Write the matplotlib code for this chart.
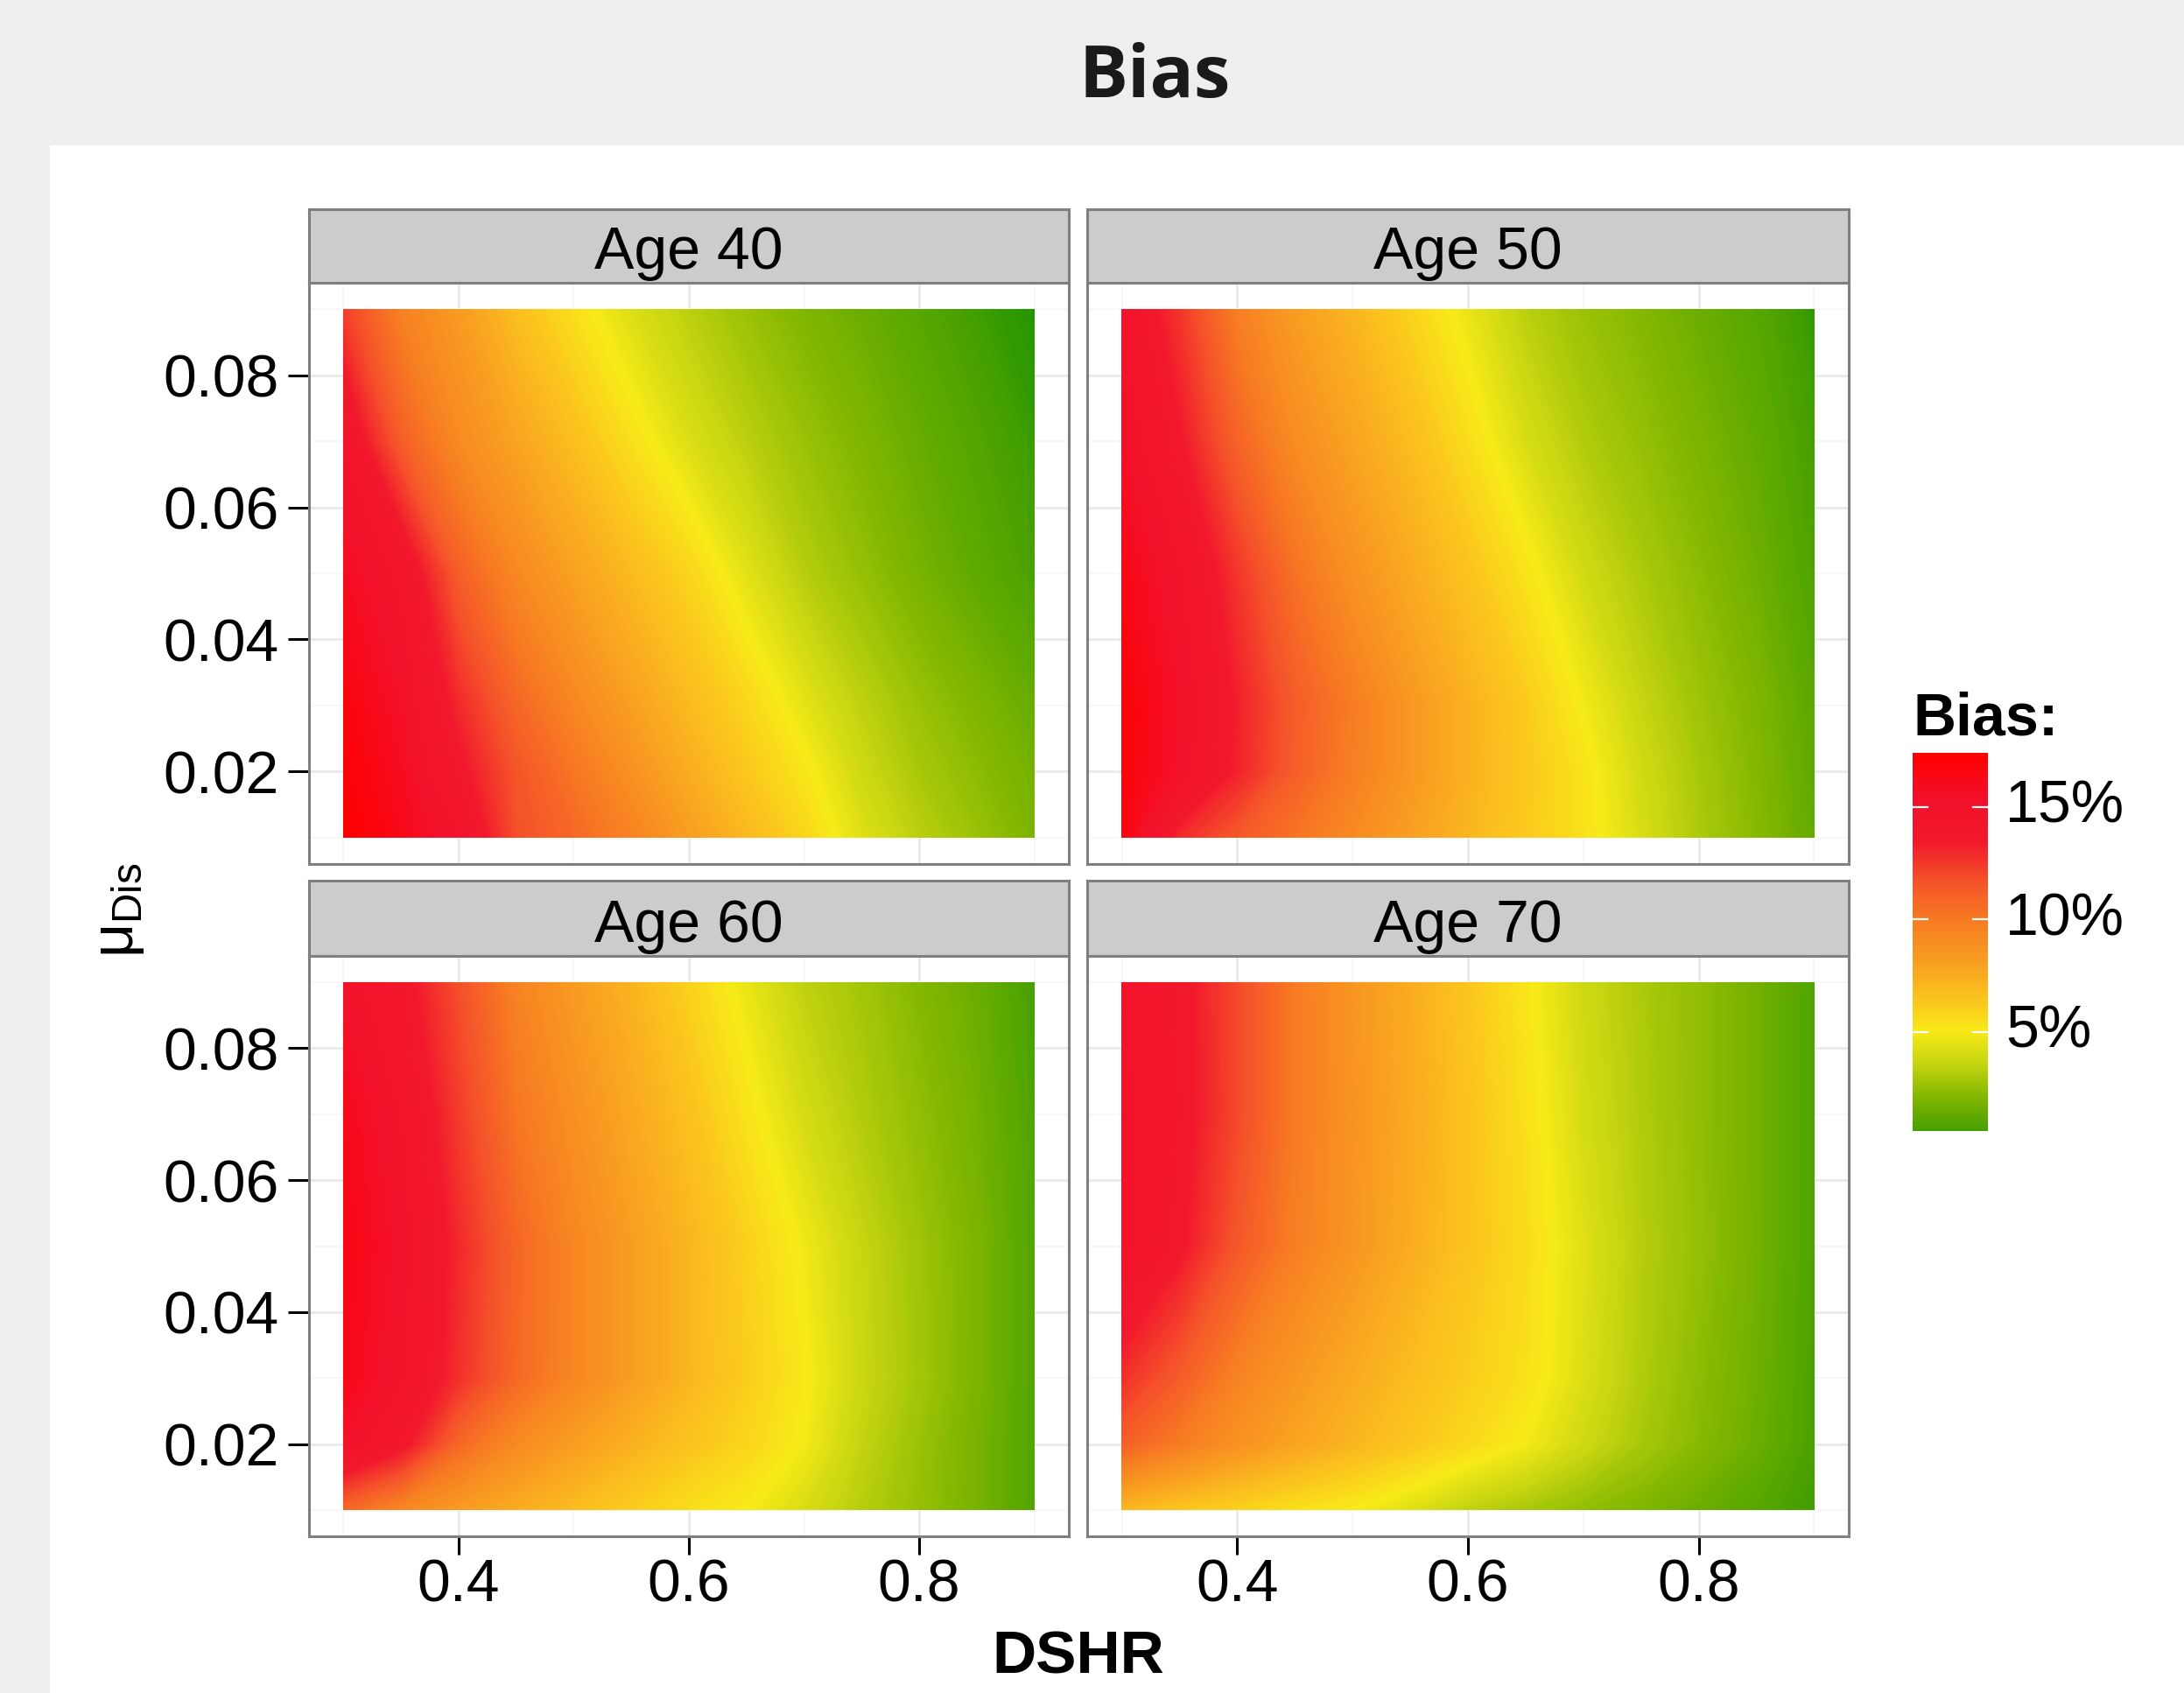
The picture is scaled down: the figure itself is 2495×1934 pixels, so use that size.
import numpy as np
import matplotlib
matplotlib.use("Agg")
import matplotlib.pyplot as plt
from matplotlib.colors import LinearSegmentedColormap, Normalize
from matplotlib.patches import Rectangle

plt.rcParams['font.family'] = ['Liberation Sans', 'DejaVu Sans']
plt.rcParams['mathtext.fontset'] = 'custom'
plt.rcParams['mathtext.rm'] = 'Liberation Sans'
plt.rcParams['mathtext.it'] = 'Liberation Sans'

# simulation grid
dshr = [0.30, 0.35, 0.40, 0.45, 0.50, 0.55, 0.60, 0.65, 0.70, 0.75, 0.80, 0.85, 0.90]
mu_dis = [0.01, 0.02, 0.03, 0.05, 0.07, 0.09]

# bias in percent, one row per mu_dis value (bottom to top)
bias_age40 = [
    [17.4, 16.3, 15.0, 11.8, 10.8, 9.6, 8.2, 7.0, 5.8, 4.3, 3.3, 2.6, 1.9],
    [17.1, 16.0, 13.8, 11.6, 10.2, 8.8, 7.5, 6.3, 5.2, 3.8, 2.9, 2.3, 1.7],
    [16.8, 15.6, 13.0, 10.9, 9.4, 8.1, 6.9, 5.8, 4.5, 3.4, 2.6, 2.0, 1.4],
    [16.0, 14.7, 11.2, 9.3, 8.0, 6.9, 5.8, 4.4, 3.2, 2.5, 1.8, 1.2, 0.7],
    [14.8, 11.2, 9.2, 7.9, 6.7, 5.4, 4.2, 3.3, 2.6, 2.0, 1.4, 0.9, 0.4],
    [12.3, 9.7, 8.3, 6.7, 5.4, 4.2, 3.3, 2.6, 2.0, 1.5, 1.0, 0.5, 0.1],
]
bias_age50 = [
    [16.8, 12.9, 11.4, 10.3, 9.2, 8.1, 7.1, 6.2, 5.4, 4.1, 3.0, 2.2, 1.3],
    [17.0, 15.4, 13.2, 11.2, 9.8, 8.5, 7.3, 6.3, 5.3, 3.9, 2.9, 2.1, 1.2],
    [17.0, 15.6, 13.3, 11.3, 9.9, 8.5, 7.3, 6.2, 4.9, 3.6, 2.7, 2.0, 1.1],
    [16.5, 15.0, 12.6, 10.4, 8.8, 7.6, 6.5, 5.3, 3.9, 3.0, 2.3, 1.6, 0.8],
    [15.6, 13.6, 11.0, 9.1, 7.9, 6.8, 5.5, 4.1, 3.1, 2.5, 1.9, 1.3, 0.6],
    [14.8, 12.6, 9.8, 8.2, 7.1, 5.9, 4.6, 3.3, 2.6, 2.1, 1.5, 1.0, 0.3],
]
bias_age60 = [
    [10.8, 9.3, 8.3, 7.5, 6.8, 6.1, 5.5, 5.0, 4.1, 3.2, 2.5, 1.8, 0.9],
    [15.6, 13.9, 10.8, 9.2, 8.2, 7.3, 6.5, 5.8, 4.9, 3.5, 2.6, 1.8, 0.9],
    [16.4, 15.0, 12.8, 10.8, 9.4, 8.2, 7.1, 6.1, 5.1, 3.7, 2.8, 1.9, 0.9],
    [16.6, 15.4, 13.0, 10.9, 9.4, 8.2, 7.1, 6.0, 4.8, 3.6, 2.7, 1.9, 0.9],
    [16.3, 14.9, 12.4, 10.2, 8.9, 7.7, 6.6, 5.3, 4.0, 3.1, 2.4, 1.7, 0.8],
    [15.4, 14.0, 11.8, 9.6, 8.3, 7.2, 5.9, 4.6, 3.4, 2.8, 2.1, 1.5, 0.6],
]
bias_age70 = [
    [7.0, 6.4, 5.9, 5.4, 5.0, 4.3, 3.4, 2.9, 2.4, 2.0, 1.5, 1.0, 0.5],
    [11.2, 9.9, 8.8, 7.9, 7.1, 6.4, 5.7, 4.9, 3.8, 2.9, 2.2, 1.5, 0.7],
    [12.8, 11.3, 9.6, 8.5, 7.6, 6.8, 6.1, 5.4, 4.2, 3.1, 2.3, 1.6, 0.7],
    [15.2, 13.7, 11.5, 9.8, 8.6, 7.5, 6.5, 5.6, 4.3, 3.2, 2.5, 1.7, 0.8],
    [15.2, 14.0, 12.0, 10.0, 8.7, 7.6, 6.5, 5.4, 4.0, 3.1, 2.4, 1.7, 0.8],
    [15.0, 13.9, 12.0, 10.0, 8.6, 7.5, 6.4, 5.2, 3.8, 3.0, 2.4, 1.7, 0.8],
]
panel_titles = ["Age 40", "Age 50", "Age 60", "Age 70"]
panel_data = [bias_age40, bias_age50, bias_age60, bias_age70]

legend_ticks = [5, 10, 15]
legend_labels = ["5%", "10%", "15%"]
legend_range = (0.6, 17.4)

# green - yellow - orange - red colour scale
scale_vals = [0.0, 0.6, 2.0, 3.5, 5.0, 6.3, 8.0, 10.0, 11.8, 13.5, 15.5, 17.4]
scale_cols = ['#1E9400', '#48A000', '#80B600', '#C4D410', '#F8EA18', '#FBC81D',
              '#F9A121', '#F77B22', '#F5502A', '#F2192C', '#F3102A', '#FF0000']
vmax = scale_vals[-1]
cmap = LinearSegmentedColormap.from_list(
    'bias', [(v / vmax, c) for v, c in zip(scale_vals, scale_cols)])
norm = Normalize(0, vmax)
fill_levels = np.linspace(-0.2, vmax + 0.2, 320)

W, H = 2495, 1934
fig = plt.figure(figsize=(W / 100, H / 100), dpi=100)
fig.patch.set_facecolor('white')

# grey title band and left strip
fig.add_artist(Rectangle((0, 1 - 166 / H), 1, 166 / H, transform=fig.transFigure,
                         facecolor='#EEEEEE', edgecolor='none', zorder=0))
fig.add_artist(Rectangle((0, 0), 57 / W, 1, transform=fig.transFigure,
                         facecolor='#EEEEEE', edgecolor='none', zorder=0))
fig.text(1319 / W, 1 - 111 / H, 'Bias', fontsize=60, fontweight='bold',
         family='Open Sans', color='#1A1A1A', ha='center', va='baseline')

# panel boxes in pixels: (left, right) and (strip top, panel top, panel bottom)
cols_px = [(353, 1221), (1242, 2112)]
rows_px = [(239, 323, 987), (1006, 1092, 1755)]
border = '#7F7F7F'

for i in range(4):
    r, c = divmod(i, 2)
    x0, x1 = cols_px[c]
    st, pt, pb = rows_px[r]

    ax = fig.add_axes([x0 / W, 1 - pb / H, (x1 - x0) / W, (pb - pt) / H])
    ax.set_axisbelow(True)
    ax.grid(which='major', color='#EBEBEB', linewidth=2.2)
    ax.grid(which='minor', color='#F6F6F6', linewidth=1.2)

    # smooth fill of the bias surface
    ax.contourf(dshr, mu_dis, np.array(panel_data[i]), levels=fill_levels,
                cmap=cmap, norm=norm, zorder=2)

    ax.set_xlim(0.27, 0.93)
    ax.set_ylim(0.006, 0.094)
    ax.set_xticks([0.4, 0.6, 0.8])
    ax.set_xticklabels(['0.4', '0.6', '0.8'])
    ax.set_xticks([0.3, 0.5, 0.7, 0.9], minor=True)
    ax.set_yticks([0.02, 0.04, 0.06, 0.08])
    ax.set_yticklabels(['0.02', '0.04', '0.06', '0.08'])
    ax.set_yticks([0.01, 0.03, 0.05, 0.07, 0.09], minor=True)

    for s in ax.spines.values():
        s.set_color(border)
        s.set_linewidth(2.2)
    ax.tick_params(which='minor', length=0)
    ax.tick_params(axis='x', which='major', length=15, width=2.2, color='black',
                   labelsize=49, pad=3)
    ax.tick_params(axis='y', which='major', length=17, width=2.2, color='black',
                   labelsize=49, pad=8)
    if r == 0:
        ax.tick_params(axis='x', which='major', length=0, labelbottom=False)
    if c == 1:
        ax.tick_params(axis='y', which='major', length=0, labelleft=False)

    # facet strip
    sax = fig.add_axes([x0 / W, 1 - pt / H, (x1 - x0) / W, (pt - st) / H])
    sax.set_facecolor('#CCCCCC')
    sax.set_xticks([])
    sax.set_yticks([])
    for s in sax.spines.values():
        s.set_color(border)
        s.set_linewidth(2.2)
    sax.text(0.5, 0.185, panel_titles[i], fontsize=49, ha='center', va='baseline',
             transform=sax.transAxes)

# axis titles
fig.text(1232 / W, 1 - 1911 / H, 'DSHR', fontsize=50, fontweight='bold',
         ha='center', va='baseline')
fig.text(135 / W, 1 - 1040 / H, r'$\mu_{\mathrm{Dis}}$', fontsize=49, rotation=90,
         ha='center', va='center')

# colour bar legend
cax = fig.add_axes([2185 / W, 1 - 1292 / H, 86 / W, 432 / H])
grad = np.linspace(legend_range[0], legend_range[1], 300)
cax.imshow(grad[:, None], aspect='auto', origin='lower', cmap=cmap, norm=norm,
           extent=(0, 1, legend_range[0], legend_range[1]), interpolation='bilinear')
cax.set_xlim(0, 1)
cax.set_ylim(*legend_range)
cax.axis('off')
for t, lab in zip(legend_ticks, legend_labels):
    cax.plot([0, 0.2], [t, t], color='white', linewidth=1.6)
    cax.plot([0.8, 1], [t, t], color='white', linewidth=1.6)
    cax.text(1.233, t, lab, fontsize=49, ha='left', va='center',
             transform=cax.get_yaxis_transform())
fig.text(2185 / W, 1 - 840 / H, 'Bias:', fontsize=49, fontweight='bold',
         ha='left', va='baseline')

fig.savefig('out.png', dpi=100)
